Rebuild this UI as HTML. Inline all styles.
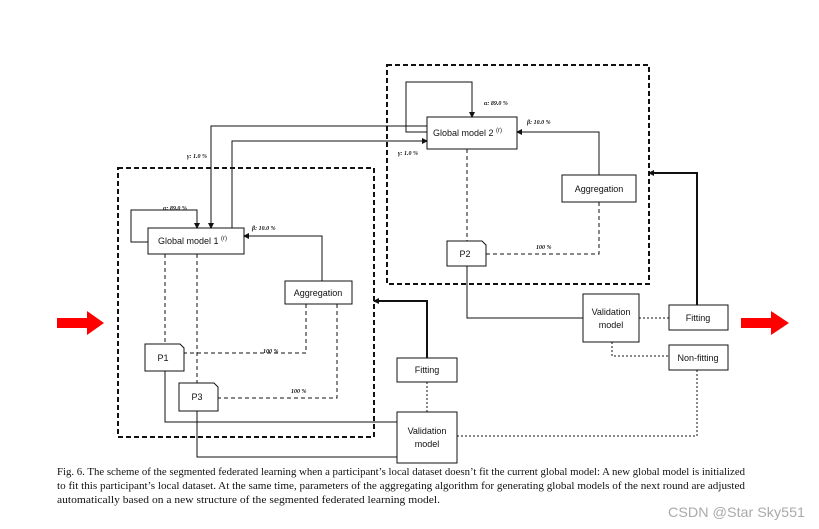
<!DOCTYPE html>
<html><head><meta charset="utf-8"><style>
html,body{margin:0;padding:0;background:#fff;}
svg{display:block;}
.b{font-family:"Liberation Sans",sans-serif;font-size:9px;fill:#111;}
.l{font-family:"Liberation Serif",serif;font-size:6px;font-style:italic;font-weight:bold;fill:#111;}
.c{font-family:"Liberation Serif",serif;font-size:11px;fill:#111;}
</style></head><body>
<svg width="819" height="529" viewBox="0 0 819 529" xmlns="http://www.w3.org/2000/svg">
<defs>
<marker id="a" markerWidth="6" markerHeight="6" refX="5" refY="3" orient="auto" markerUnits="userSpaceOnUse"><path d="M0,0 L6,3 L0,6 z" fill="#111"/></marker>
</defs>
<rect width="819" height="529" fill="#fff"/>
<g fill="none" stroke="#111">
<rect x="387" y="65" width="262" height="219" stroke-width="2" stroke-dasharray="5,3"/>
<rect x="118" y="168" width="256" height="269" stroke-width="2" stroke-dasharray="5,3"/>
<rect x="427" y="117" width="90" height="32" stroke-width="1"/>
<rect x="148" y="228" width="96" height="26"/>
<rect x="562" y="175" width="74" height="27"/>
<rect x="285" y="281" width="67" height="23"/>
<rect x="397" y="358" width="60" height="24"/>
<rect x="397" y="412" width="60" height="51"/>
<rect x="583" y="294" width="56" height="48"/>
<rect x="669" y="305" width="59" height="25"/>
<rect x="669" y="345" width="59" height="25"/>
<path d="M145,344 H180 L184,348 V371 H145 Z"/>
<path d="M179,383 H214 L218,387 V411 H179 Z"/>
<path d="M447,241 H482 L486,245 V266 H447 Z"/>
<path d="M427,132 H406 V82 H472 V117" marker-end="url(#a)"/>
<path d="M427,126 H211 V228" marker-end="url(#a)"/>
<path d="M232,228 V141 H427" marker-end="url(#a)"/>
<path d="M599,175 V132 H517" marker-end="url(#a)"/>
<path d="M148,242 H131 V210 H197 V228" marker-end="url(#a)"/>
<path d="M322,281 V236 H244" marker-end="url(#a)"/>
<g stroke-dasharray="4,3">
<path d="M165,254 V344"/>
<path d="M197,254 V383"/>
<path d="M306,304 V353 H184"/>
<path d="M337,304 V398 H218"/>
<path d="M467,149 V241"/>
<path d="M599,202 V254 H486"/>
</g>
<g stroke-dasharray="2,2">
<path d="M427,382 V412"/>
<path d="M639,318 H669"/>
<path d="M612,342 V356 H669"/>
<path d="M697,370 V436 H457"/>
</g>
<path d="M165,371 V422 H397"/>
<path d="M197,411 V457 H397"/>
<path d="M467,266 V318 H583"/>
<path d="M427,358 V301 H374" stroke-width="2" marker-end="url(#a)"/>
<path d="M697,305 V173 H649" stroke-width="2" marker-end="url(#a)"/>
</g>
<path d="M57,318 H87 V311 L104,323 L87,335 V328 H57 Z" fill="#f00"/>
<path d="M741,318 H771 V311 L789,323 L771,335 V328 H741 Z" fill="#f00"/>
<text class="b" x="433" y="136">Global model 2 <tspan font-size="6" dy="-4">(r)</tspan></text>
<text class="b" x="158" y="244">Global model 1 <tspan font-size="6" dy="-4">(r)</tspan></text>
<text class="b" x="599" y="192" text-anchor="middle">Aggregation</text>
<text class="b" x="318" y="296" text-anchor="middle">Aggregation</text>
<text class="b" x="427" y="373" text-anchor="middle">Fitting</text>
<text class="b" x="427" y="434" text-anchor="middle">Validation</text>
<text class="b" x="427" y="447" text-anchor="middle">model</text>
<text class="b" x="611" y="315" text-anchor="middle">Validation</text>
<text class="b" x="611" y="328" text-anchor="middle">model</text>
<text class="b" x="698" y="321" text-anchor="middle">Fitting</text>
<text class="b" x="698" y="361" text-anchor="middle">Non-fitting</text>
<text class="b" x="163" y="361" text-anchor="middle">P1</text>
<text class="b" x="197" y="400" text-anchor="middle">P3</text>
<text class="b" x="465" y="257" text-anchor="middle">P2</text>
<text class="l" x="484" y="105">α: 89.0 %</text>
<text class="l" x="527" y="124">β: 10.0 %</text>
<text class="l" x="398" y="155">γ: 1.0 %</text>
<text class="l" x="187" y="158">γ: 1.0 %</text>
<text class="l" x="163" y="210">α: 89.0 %</text>
<text class="l" x="252" y="230">β: 10.0 %</text>
<text class="l" x="263" y="353">100 %</text>
<text class="l" x="291" y="393">100 %</text>
<text class="l" x="536" y="249">100 %</text>
<text class="c" x="57" y="475" textLength="688" lengthAdjust="spacingAndGlyphs">Fig. 6. The scheme of the segmented federated learning when a participant’s local dataset doesn’t fit the current global model: A new global model is initialized</text>
<text class="c" x="57" y="489" textLength="688" lengthAdjust="spacingAndGlyphs">to fit this participant’s local dataset. At the same time, parameters of the aggregating algorithm for generating global models of the next round are adjusted</text>
<text class="c" x="57" y="503" textLength="383" lengthAdjust="spacingAndGlyphs">automatically based on a new structure of the segmented federated learning model.</text>
<text x="668" y="517" font-family="Liberation Sans,sans-serif" font-size="14" fill="#aaa" textLength="137" lengthAdjust="spacingAndGlyphs">CSDN @Star Sky551</text>
</svg>
</body></html>
